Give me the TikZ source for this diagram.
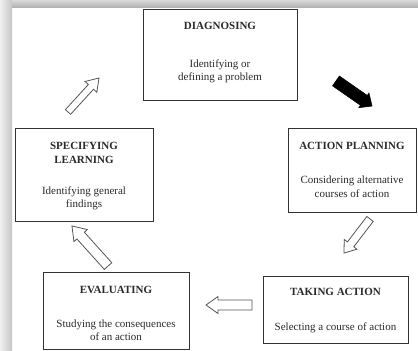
\documentclass[tikz,border=0pt]{standalone}
\usepackage{fontspec}
\setmainfont{Liberation Serif}
\definecolor{boxc}{HTML}{333333}
\definecolor{txt}{HTML}{2A2A2A}
\definecolor{arrc}{HTML}{555555}
\newcommand\arrowpath[4]{(-#1/2,-#2) -- (#1/2-#4,-#2) -- (#1/2-#4,-#3) -- (#1/2,0) -- (#1/2-#4,#3) -- (#1/2-#4,#2) -- (-#1/2,#2) -- cycle}
\begin{document}
\begin{tikzpicture}[x=1pt,y=-1pt,
  box/.style={draw=boxc, line width=0.9pt, inner sep=0pt},
  head/.style={anchor=base, font=\fontsize{11}{13}\selectfont\bfseries, text=txt, inner sep=0pt},
  desc/.style={anchor=base, font=\fontsize{11}{13}\selectfont, text=txt, inner sep=0pt},
  hollow/.style={draw=arrc, fill=white, line width=0.8pt, line join=miter},
  solidarrow/.style={draw=black, fill=black, line width=0.5pt, line join=miter}]
\useasboundingbox (0,0) rectangle (418,351);
\fill[white] (0,0) rectangle (418,351);
\shade[top color=gray!30, bottom color=gray!60] (0,0) rectangle (418,7);
\shade[left color=gray!12, right color=gray!45] (0,0) rectangle (12,351);

% boxes
\node[box, minimum width=154pt, minimum height=91pt] (diag) at (220,54.5) {};
\node[box, minimum width=138pt, minimum height=93pt] (spec) at (84,174.5) {};
\node[box, minimum width=128pt, minimum height=84pt] (plan) at (352,170) {};
\node[box, minimum width=146pt, minimum height=77pt] (eval) at (116,310.5) {};
\node[box, minimum width=145pt, minimum height=67pt] (take) at (335.5,309.5) {};

% texts
\node[head] (diagh) at (220,29) {DIAGNOSING};
\node[desc] (diagd1) at (220,67) {Identifying or};
\node[desc] (diagd2) at (220,80) {defining a problem};

\node[head] (spech1) at (84,149) {SPECIFYING};
\node[head] (spech2) at (84,163) {LEARNING};
\node[desc] (specd1) at (84,194) {Identifying general};
\node[desc] (specd2) at (84,207) {findings};

\node[head] (planh) at (352,149) {ACTION PLANNING};
\node[desc] (pland1) at (352,183) {Considering alternative};
\node[desc] (pland2) at (352,197) {courses of action};

\node[head] (evalh) at (116,293) {EVALUATING};
\node[desc] (evald1) at (116,327) {Studying the consequences};
\node[desc] (evald2) at (116,340) {of an action};

\node[head] (takeh) at (335.5,295) {TAKING ACTION};
\node[desc] (taked1) at (335.5,330) {Selecting a course of action};

% arrows
\coordinate (a1) at (83.5,95);
\coordinate (a2) at (354,93.5);
\coordinate (a3) at (357,236);
\coordinate (a4) at (229,305);
\coordinate (a5) at (90,246);
\draw[hollow, shift={(a1)}, rotate=47.6] \arrowpath{46}{3.5}{8}{12};
\draw[solidarrow, shift={(a2)}, rotate=-34.8] \arrowpath{44}{6}{9}{10};
\draw[hollow, shift={(a3)}, rotate=232.6] \arrowpath{43}{4}{8}{11};
\draw[hollow, shift={(a4)}, rotate=180] \arrowpath{46}{5}{8.5}{12};
\draw[hollow, shift={(a5)}, rotate=132] \arrowpath{54}{5}{9}{13};
\end{tikzpicture}
\end{document}
